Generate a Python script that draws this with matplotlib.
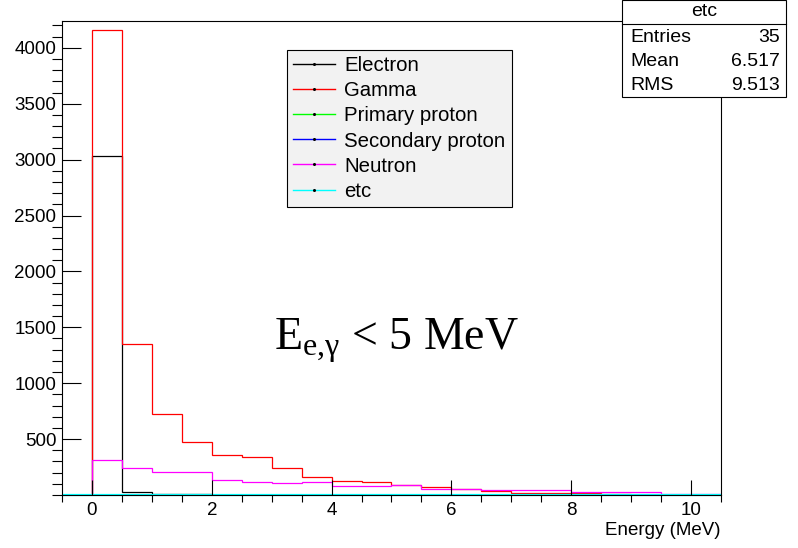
import numpy as np
import matplotlib.pyplot as plt
from matplotlib.lines import Line2D
from matplotlib.patches import Rectangle

plt.rcParams['font.family'] = ['Liberation Sans', 'DejaVu Sans']
plt.rcParams['mathtext.fontset'] = 'custom'
plt.rcParams['mathtext.rm'] = 'Liberation Serif'
plt.rcParams['mathtext.it'] = 'Liberation Serif:italic'

# histogram bins: 0.5 MeV wide, from -0.5 to 10.5 MeV
bin_edges = np.arange(-0.5, 10.51, 0.5)

electron = [0, 3032, 29, 6, 6, 0, 0, 0, 0, 0, 0, 0, 0, 0, 0, 0, 0, 0, 0, 0, 0, 0]
gamma = [0, 4160, 1347, 721, 476, 355, 337, 244, 164, 128, 113, 88,
         69, 56, 33, 21, 21, 21, 12, 4, 2, 2]
primary_proton = [0] * 22
secondary_proton = [0] * 22
neutron = [0, 310, 239, 203, 203, 134, 116, 107, 116, 78, 78, 89,
           56, 56, 47, 47, 47, 29, 29, 29, 12, 12]
etc = [0] * 22

names = ["Electron", "Gamma", "Primary proton", "Secondary proton", "Neutron", "etc"]
colors = ["black", "#ff0000", "#00ff00", "#0000ff", "#ff00ff", "#00ffff"]
series = [electron, gamma, primary_proton, secondary_proton, neutron, etc]

stats_labels = ["Entries", "Mean", "RMS"]
stats_values = ["35", "6.517", "9.513"]

W, H = 798, 548
fig = plt.figure(figsize=(W / 100, H / 100), dpi=100)
ax = fig.add_axes([62 / W, 1 - 495 / H, (721 - 62) / W, (495 - 21) / H])

for vals, col in zip(series, colors):
    lw = 1.6 if col == "#00ffff" else 0.9
    ax.stairs(vals, bin_edges, color=col, linewidth=lw, baseline=0,
              clip_on=(col != "#00ffff"))

ax.set_xlim(-0.5, 10.5)
ax.set_ylim(0, 4240)
ax.set_xticks(np.arange(0, 11, 2))
ax.set_xticks(np.arange(-0.5, 10.51, 0.5), minor=True)
ax.set_yticks(np.arange(500, 4001, 500))
ax.set_yticks(np.arange(0, 4240, 100), minor=True)

for s in ["top", "right", "left", "bottom"]:
    ax.spines[s].set_linewidth(0.8)
ax.tick_params(axis="both", direction="in", labelsize=13.5, width=0.8,
               top=False, right=False)
ax.tick_params(axis="y", which="major", length=13.5, pad=4)
ax.tick_params(axis="y", which="minor", length=7, width=0.8)
ax.tick_params(axis="x", which="major", length=11, pad=5)
ax.tick_params(axis="x", which="minor", length=5, width=0.8)

ax.set_xlabel("Energy (MeV)", fontsize=13.5, loc="right", labelpad=2)

handles = []
for col in colors:
    handles.append(Line2D([], [], color=col, linewidth=1.0, marker="o",
                          markersize=1.2, markerfacecolor="black",
                          markeredgecolor="black"))
leg = ax.legend(handles, names, loc="upper left",
                bbox_to_anchor=(287 / W, 1 - 50 / H),
                bbox_transform=fig.transFigure, fontsize=14.7,
                frameon=True, fancybox=False, framealpha=1,
                facecolor="#f2f2f2", edgecolor="black", borderaxespad=0,
                handlelength=2.05, handletextpad=0.45, labelspacing=0.30,
                borderpad=0.3, numpoints=1)
leg.get_frame().set_linewidth(0.8)

ax.text(0.508, 0.306, r"E$_{\mathrm{e{,}\gamma}}$ < 5 MeV", transform=ax.transAxes,
        fontsize=33, family="Liberation Serif", ha="center", va="baseline")

# stats box
x0, x1, y0, y1 = 622, 786, 0, 97
fig.add_artist(Rectangle((x0 / W, 1 - y1 / H), (x1 - x0) / W, (y1 - y0) / H,
                         transform=fig.transFigure, facecolor="white",
                         edgecolor="black", linewidth=0.8, zorder=10))
fig.add_artist(Line2D([x0 / W, x1 / W], [1 - 24 / H, 1 - 24 / H],
                      transform=fig.transFigure, color="black",
                      linewidth=0.8, zorder=11))
fig.text((x0 + x1) / 2 / W, 1 - 12 / H, "etc", ha="center", va="center",
         fontsize=14, zorder=12)
for i, (lab, val) in enumerate(zip(stats_labels, stats_values)):
    yy = 1 - (37 + 24 * i) / H
    fig.text(630 / W, yy, lab, ha="left", va="center", fontsize=14, zorder=12)
    fig.text(780 / W, yy, val, ha="right", va="center", fontsize=14, zorder=12)

fig.savefig("out.png", dpi=100)
